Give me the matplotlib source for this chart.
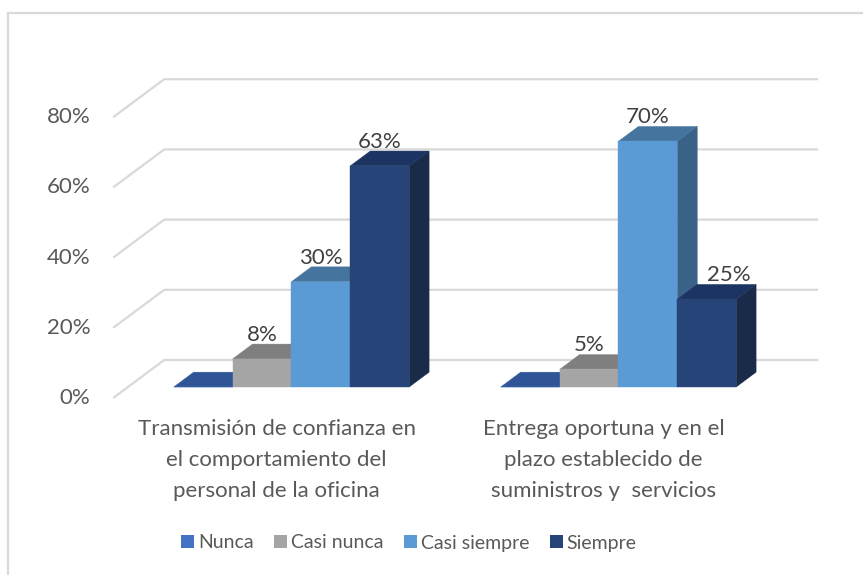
import matplotlib.pyplot as plt
from matplotlib.patches import Polygon, Rectangle
from matplotlib.lines import Line2D

categories = ["Transmisión de confianza en\nel comportamiento del\npersonal de la oficina",
              "Entrega oportuna y en el\nplazo establecido de\nsuministros y  servicios"]
series_names = ["Nunca", "Casi nunca", "Casi siempre", "Siempre"]
nunca = [0, 0]
casi_nunca = [8, 5]
casi_siempre = [30, 70]
siempre = [63, 25]
y_ticks = [0, 20, 40, 60, 80]

values = [nunca, casi_nunca, casi_siempre, siempre]
# front, top, side colours for each series
colors = [("#4472C4", "#2F5597", "#2A4B80"),
          ("#A5A5A5", "#7F7F7F", "#6E6E6E"),
          ("#5B9BD5", "#45759F", "#3A6186"),
          ("#264478", "#1C3461", "#1A2B4A")]
# label moved sideways so it doesn't sit on the tall bar next to it
label_nudge = {(1, 3): 0.067}

plt.rcParams['font.family'] = ['Lato', 'DejaVu Sans']
text_gray = "#595959"
label_gray = "#404040"
grid_col = "#D9D9D9"

W, H = 863, 575
fig = plt.figure(figsize=(W / 100, H / 100), dpi=100)
ax = fig.add_axes([0, 0, 1, 1])
# front plane: category 0 at 276.7 px, 327 px per category, 3.51 px per percent
ax.set_xlim(-276.7 / 327, (W - 276.7) / 327)
ax.set_ylim((398 - H) / 3.51, 398 / 3.51)
ax.axis('off')

# oblique depth of the floor (category units, percent units)
dX, dY = 51 / 327, 38 / 3.51
t0, t1 = 0.29, 0.68
bar_w = 0.18
x_lo, x_hi = -0.5, 1.5

# walls / gridlines
for v in y_ticks:
    ax.plot([x_lo, x_lo + dX, x_hi + dX], [v, v + dY, v + dY],
            color=grid_col, lw=1.6, zorder=1, solid_capstyle='butt')
    ax.text(x_lo - 0.07, v, f"{v}%", ha='right', va='center',
            fontsize=16, color=text_gray)

n = len(values)
for gi in range(len(categories)):
    for si in range(n):
        v = values[si][gi]
        front, top, side = colors[si]
        xl = gi + (si - n / 2) * bar_w + t0 * dX
        xr = xl + bar_w
        base = t0 * dY
        ex, ey = (t1 - t0) * dX, (t1 - t0) * dY
        ax.add_patch(Polygon([(xr, base), (xr, base + v), (xr + ex, base + v + ey),
                              (xr + ex, base + ey)], closed=True, fc=side,
                             ec=side, lw=0.3, zorder=3))
        ax.add_patch(Polygon([(xl, base + v), (xr, base + v), (xr + ex, base + v + ey),
                              (xl + ex, base + v + ey)], closed=True, fc=top,
                             ec=top, lw=0.3, zorder=3))
        ax.bar(xl, v, width=bar_w, bottom=base, align='edge', color=front,
               edgecolor=front, lw=0.3, zorder=3)
        if v > 0:
            lx = xl + bar_w / 2 + label_nudge.get((gi, si), 0)
            ax.text(lx, base + v + ey - 0.2, f"{v}%", ha='center',
                    va='bottom', fontsize=16, color=label_gray, zorder=4)

for gi, cat in enumerate(categories):
    ax.text(gi, -6.0, cat, ha='center', va='top', fontsize=16,
            color=text_gray, linespacing=1.68)

handles = [Rectangle((0, 0), 1, 1, fc=c[0], ec='none') for c in colors]
fig.legend(handles, series_names, loc='center', bbox_to_anchor=(409 / W, 1 - 543 / H),
           ncol=4, frameon=False, fontsize=14, handlelength=0.67, handleheight=0.67,
           handletextpad=0.2, columnspacing=1.05, labelcolor=text_gray)

# chart border (only top and left visible)
fig.add_artist(Line2D([8 / W, 8 / W], [0, 1 - 13 / H], color=grid_col, lw=1.6))
fig.add_artist(Line2D([8 / W, 1], [1 - 13 / H, 1 - 13 / H], color=grid_col, lw=1.6))

fig.savefig("out.png", dpi=100)
